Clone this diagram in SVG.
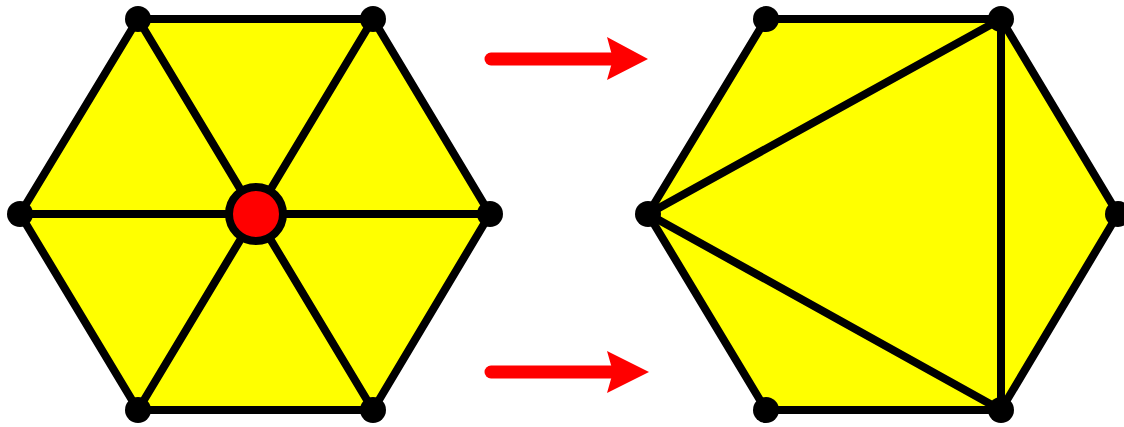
<svg xmlns="http://www.w3.org/2000/svg" width="1124" height="427" viewBox="0 0 1124 427">
<style>
.hex{fill:#ffff00;stroke:#000;stroke-width:8;stroke-linejoin:round}
.e{stroke:#000;stroke-width:8;fill:none;stroke-linecap:round}
.v{fill:#000}
.arr{stroke:#ff0000;stroke-width:13;stroke-linecap:round;fill:none}
.ah{fill:#ff0000}
</style>
<g id="left">
<polygon class="hex" points="138,19 373,19 490,214 373,410 138,410 20,214"/>
<line class="e" x1="138" y1="19" x2="373" y2="410"/>
<line class="e" x1="373" y1="19" x2="138" y2="410"/>
<line class="e" x1="20" y1="214" x2="490" y2="214"/>
<circle class="v" cx="138" cy="19" r="13"/>
<circle class="v" cx="373" cy="19" r="13"/>
<circle class="v" cx="490" cy="214" r="13"/>
<circle class="v" cx="373" cy="410" r="13"/>
<circle class="v" cx="138" cy="410" r="13"/>
<circle class="v" cx="20" cy="214" r="13"/>
<circle cx="256" cy="214" r="27" fill="#ff0000" stroke="#000" stroke-width="8"/>
</g>
<g id="connectors">
<line class="arr" x1="491" y1="59" x2="612" y2="59"/>
<polygon class="ah" points="607,37 648,59 607,80 613,59"/>
<line class="arr" x1="491" y1="372" x2="612" y2="372"/>
<polygon class="ah" points="607,351 649,372 607,393 613,372"/>
</g>
<g id="right">
<polygon class="hex" points="766,19 1001,19 1118,214 1001,410 766,410 648,214"/>
<line class="e" x1="648" y1="214" x2="1001" y2="19"/>
<line class="e" x1="648" y1="214" x2="1001" y2="410"/>
<line class="e" x1="1001" y1="19" x2="1001" y2="410"/>
<circle class="v" cx="766" cy="19" r="13"/>
<circle class="v" cx="1001" cy="19" r="13"/>
<circle class="v" cx="1118" cy="214" r="13"/>
<circle class="v" cx="1001" cy="410" r="13"/>
<circle class="v" cx="766" cy="410" r="13"/>
<circle class="v" cx="648" cy="214" r="13"/>
</g>
</svg>
